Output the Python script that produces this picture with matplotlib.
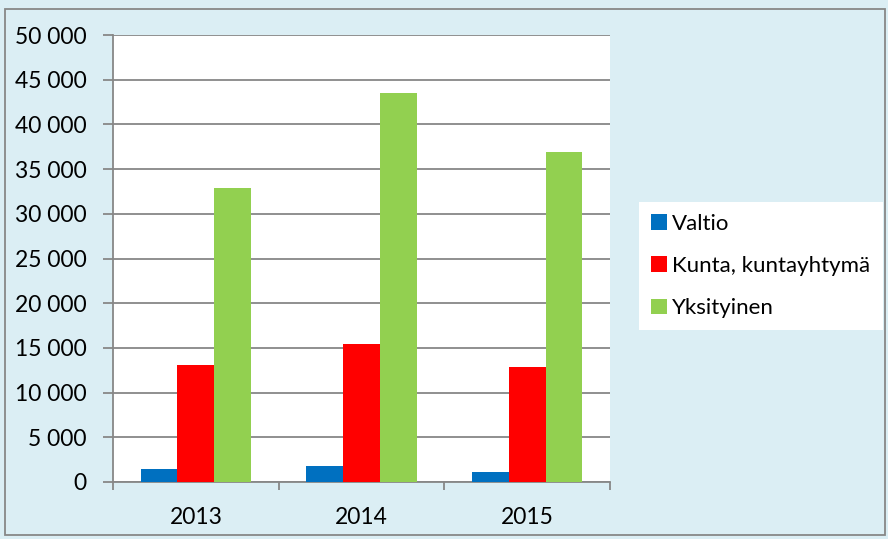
import numpy as np
import matplotlib
matplotlib.use('Agg')
from matplotlib import pyplot as plt
from matplotlib.patches import Rectangle

plt.rcParams['font.family'] = ['Lato', 'DejaVu Sans']

vuodet = ['2013', '2014', '2015']
sarjat = ['Valtio', 'Kunta, kuntayhtymä', 'Yksityinen']
valtio = [1400, 1800, 1100]
kunta = [13100, 15400, 12900]
yksityinen = [32900, 43500, 36900]
y_ticks = list(range(0, 50001, 5000))

varit = ['#0070C0', '#FF0000', '#92D050']
tausta = '#DBEEF4'
harmaa = '#878787'
fs = 16.5

fig = plt.figure(figsize=(8.88, 5.39), dpi=100, facecolor=tausta)
ax = fig.add_axes([113/888, 1-482/539, (610-113)/888, (482-35)/539])
ax.set_facecolor('white')

x = np.arange(len(vuodet))
w = 1/4.5
for i, (arvot, nimi, c) in enumerate(zip([valtio, kunta, yksityinen], sarjat, varit)):
    ax.bar(x + (i-1)*w, arvot, width=w, color=c, label=nimi, zorder=3)

ax.set_xlim(-0.5, 2.5)
ax.set_ylim(0, 50000)
ax.set_yticks(y_ticks)
ax.set_yticklabels([f'{v:,}'.replace(',', ' ') for v in y_ticks])
ax.yaxis.grid(True, color=harmaa, lw=1.3, zorder=1)

ax.set_xticks([-0.5, 0.5, 1.5, 2.5])
ax.set_xticklabels([])
ax.set_xticks(x, minor=True)
ax.set_xticklabels(vuodet, minor=True)
ax.tick_params(axis='x', which='minor', length=0, pad=18, labelsize=fs)
ax.tick_params(axis='x', which='major', length=6, color=harmaa, width=1.3)
ax.tick_params(axis='y', length=7, color=harmaa, width=1.3, pad=12, labelsize=fs)

for s in ['top', 'right']:
    ax.spines[s].set_visible(False)
for s in ['left', 'bottom']:
    ax.spines[s].set_color(harmaa)
    ax.spines[s].set_linewidth(1.3)

leg = fig.legend(loc='center left', bbox_to_anchor=(639/888, 1-266/539),
                 frameon=True, fancybox=False, framealpha=1, fontsize=16,
                 handlelength=0.7, handleheight=0.7, handletextpad=0.25,
                 labelspacing=1.0, borderpad=0.55, borderaxespad=0)
leg.get_frame().set_edgecolor('none')
leg.get_frame().set_facecolor('white')

fig.patches.append(Rectangle((5/888, 4/539), 880/888, 526/539, transform=fig.transFigure,
                             fill=False, edgecolor=harmaa, lw=1.3))

fig.savefig('out.png', dpi=100, facecolor=tausta)
